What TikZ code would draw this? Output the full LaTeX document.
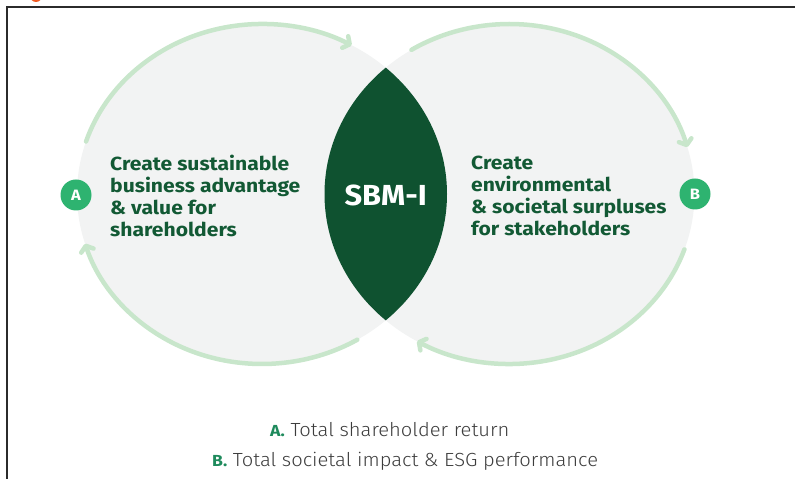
\documentclass[tikz,border=0pt]{standalone}
\usepackage{fontspec}
\setmainfont{Fira Sans}
\newfontfamily\aimfont{Fira Sans}[FakeStretch=1.11]
\newfontfamily\corefont{Fira Sans}[FakeStretch=1.06]
\newfontfamily\keyfont{Fira Sans Light}[FakeStretch=1.06]
\newfontfamily\markfont{Fira Sans}[FakeStretch=1.1]
\usetikzlibrary{arrows.meta}

\definecolor{discgrey}{HTML}{F2F3F3}
\definecolor{lensgreen}{HTML}{0F5230}
\definecolor{textgreen}{HTML}{125934}
\definecolor{badgegreen}{HTML}{2EB370}
\definecolor{arcgreen}{HTML}{C8E6CB}
\definecolor{keygreen}{HTML}{1E8A5C}
\definecolor{keygrey}{HTML}{3C3C3C}
\definecolor{framegrey}{HTML}{2B2B2B}
\definecolor{logored}{HTML}{F05A22}

\newcommand{\keymark}[1]{{\color{keygreen}\markfont\bfseries\fontsize{16}{16}\selectfont #1}}

\begin{document}
\begin{tikzpicture}[x=1pt,y=1pt,
  disc/.style={fill=discgrey},
  cyc/.style={draw=arcgreen, line width=4.5pt, line cap=round,
    -{Straight Barb[length=5pt,width=13pt,line cap=round,line join=round]}},
  badge/.style={circle, fill=badgegreen, minimum size=31pt, inner sep=0pt,
    text=white, font=\markfont\bfseries\fontsize{15}{15}\selectfont},
  aim/.style={text=textgreen, font=\aimfont\bfseries\fontsize{19}{21.8}\selectfont,
    align=left, anchor=north west, inner sep=0pt},
  core/.style={text=white, font=\corefont\bfseries\fontsize{29}{29}\selectfont, inner sep=0pt},
  keyline/.style={text=keygrey, font=\keyfont\fontsize{19}{22}\selectfont,
    anchor=base west, inner sep=0pt}
]
\useasboundingbox (0,0) rectangle (795,479);

% cropped logo mark peeking in at the top edge
\begin{scope}
  \clip (0,0) rectangle (795,479);
  \fill[logored] (36,483) ellipse[x radius=6, y radius=6];
\end{scope}

% frame
\draw[framegrey, line width=1.4pt] (7,0) -- (7,472) -- (795,472);

% the two discs and their overlap
\coordinate (L) at (262,285);
\coordinate (R) at (509.5,285);
\fill[disc] (L) ellipse[x radius=185, y radius=170];
\fill[disc] (R) ellipse[x radius=185, y radius=170];
\begin{scope}
  \clip (L) ellipse[x radius=185, y radius=170];
  \fill[lensgreen] (R) ellipse[x radius=185, y radius=170];
\end{scope}

% circulating arrows on the disc rims
\draw[cyc] ([shift={(162:185 and 170)}]L) arc[start angle=162, end angle=61, x radius=185, y radius=170];
\draw[cyc] ([shift={(-59:185 and 170)}]L) arc[start angle=-59, end angle=-163, x radius=185, y radius=170];
\draw[cyc] ([shift={(122:185 and 170)}]R) arc[start angle=122, end angle=16, x radius=185, y radius=170];
\draw[cyc] ([shift={(-19:185 and 170)}]R) arc[start angle=-19, end angle=-120, x radius=185, y radius=170];

% badges
\node[badge] (A) at (76,284) {A};
\node[badge] (B) at (695,285) {B};

% texts
\node[aim] (goalA) at (110,324) {Create sustainable\\business advantage\\\& value for\\shareholders};
\node[aim] (goalB) at (471,323) {Create\\environmental\\\& societal surpluses\\for stakeholders};
\node[core] (sbmi) at (385.75,284) {SBM-I};

% key
\node[keyline] (keyA) at (270,42) {\keymark{A.} Total shareholder return};
\node[keyline] (keyB) at (212,12) {\keymark{B.} Total societal impact \& ESG performance};
\end{tikzpicture}
\end{document}
